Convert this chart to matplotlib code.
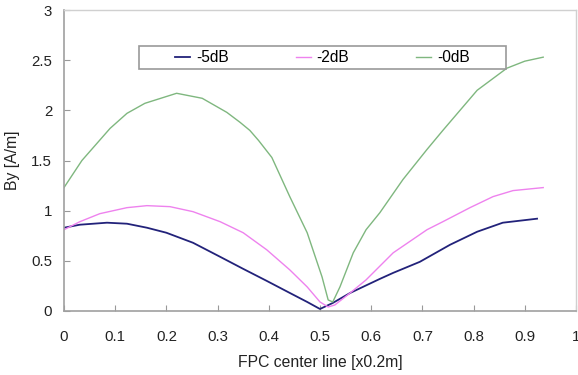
import matplotlib
matplotlib.use("Agg")
import matplotlib.pyplot as plt
from matplotlib.patches import Rectangle

plt.rcParams['font.family'] = ['Liberation Sans', 'DejaVu Sans']

x_m5 = [0.0, 0.031, 0.084, 0.123, 0.162, 0.2, 0.252, 0.305, 0.35, 0.396, 0.441, 0.475, 0.5,
        0.525, 0.559, 0.617, 0.643, 0.695, 0.754, 0.807, 0.857, 0.924]
y_m5 = [0.83, 0.86, 0.88, 0.87, 0.83, 0.78, 0.68, 0.54, 0.42, 0.30, 0.18, 0.09, 0.02,
        0.08, 0.18, 0.32, 0.38, 0.49, 0.66, 0.79, 0.88, 0.92]

x_m2 = [0.0, 0.031, 0.07, 0.123, 0.162, 0.207, 0.252, 0.305, 0.35, 0.396, 0.441, 0.475, 0.5,
        0.516, 0.529, 0.559, 0.59, 0.643, 0.709, 0.74, 0.793, 0.838, 0.877, 0.936]
y_m2 = [0.81, 0.89, 0.97, 1.03, 1.05, 1.04, 0.99, 0.89, 0.78, 0.61, 0.41, 0.24, 0.09,
        0.04, 0.06, 0.18, 0.31, 0.58, 0.81, 0.89, 1.03, 1.14, 1.20, 1.23]

x_0 = [0.0, 0.035, 0.09, 0.123, 0.158, 0.22, 0.27, 0.318, 0.344, 0.363, 0.38, 0.406, 0.441,
       0.475, 0.504, 0.516, 0.525, 0.539, 0.565, 0.59, 0.617, 0.662, 0.709, 0.74, 0.807,
       0.865, 0.90, 0.936]
y_0 = [1.23, 1.50, 1.82, 1.97, 2.07, 2.17, 2.12, 1.98, 1.88, 1.80, 1.70, 1.53, 1.14,
       0.78, 0.34, 0.11, 0.09, 0.24, 0.58, 0.81, 0.98, 1.31, 1.61, 1.80, 2.20,
       2.42, 2.49, 2.53]

labels = ['-5dB', '-2dB', '-0dB']
colors = ['#22227a', '#ee82ee', '#7fb77f']
xtick_vals = [0, 0.1, 0.2, 0.3, 0.4, 0.5, 0.6, 0.7, 0.8, 0.9, 1]
xtick_labels = ['0', '0.1', '0.2', '0.3', '0.4', '0.5', '0.6', '0.7', '0.8', '0.9', '1']
ytick_vals = [0, 0.5, 1, 1.5, 2, 2.5, 3]
ytick_labels = ['0', '0.5', '1', '1.5', '2', '2.5', '3']

fig = plt.figure(figsize=(5.78, 3.75), dpi=100)
ax = fig.add_axes([0.1107, 0.1707, 0.8858, 0.8026])

ax.plot(x_m5, y_m5, color=colors[0], lw=1.3, label=labels[0])
ax.plot(x_m2, y_m2, color=colors[1], lw=1.0, label=labels[1])
ax.plot(x_0, y_0, color=colors[2], lw=1.0, label=labels[2])

ax.set_xlim(0, 1)
ax.set_ylim(0, 3)
ax.set_xticks(xtick_vals)
ax.set_xticklabels(xtick_labels)
ax.set_yticks(ytick_vals)
ax.set_yticklabels(ytick_labels)
ax.tick_params(direction='in', length=4, color='#999999', labelsize=10.8, labelcolor='#222222')
ax.tick_params(axis='x', pad=13.5)
ax.tick_params(axis='y', pad=8.5)
for s in ['left', 'bottom']:
    ax.spines[s].set_color('#a0a0a0')
    ax.spines[s].set_linewidth(1.2)
for s in ['top', 'right']:
    ax.spines[s].set_color('#d0d0d0')
    ax.spines[s].set_linewidth(1.0)

ax.set_xlabel('FPC center line [x0.2m]', fontsize=11.3, color='#222222', labelpad=8)
ax.set_ylabel('By [A/m]', fontsize=11.3, color='#222222', labelpad=8)

ax.add_patch(Rectangle((0.146, 0.804), 0.717, 0.076, transform=ax.transAxes,
                       facecolor='white', edgecolor='#999999', lw=1.2, zorder=4))
leg = ax.legend(loc='center', bbox_to_anchor=(0.505, 0.842), ncol=3, fontsize=11.2,
                handlelength=0.96, handletextpad=0.4, columnspacing=4.3, borderaxespad=0,
                frameon=False, borderpad=0)
leg.set_zorder(5)

fig.savefig('out.png', dpi=100)
